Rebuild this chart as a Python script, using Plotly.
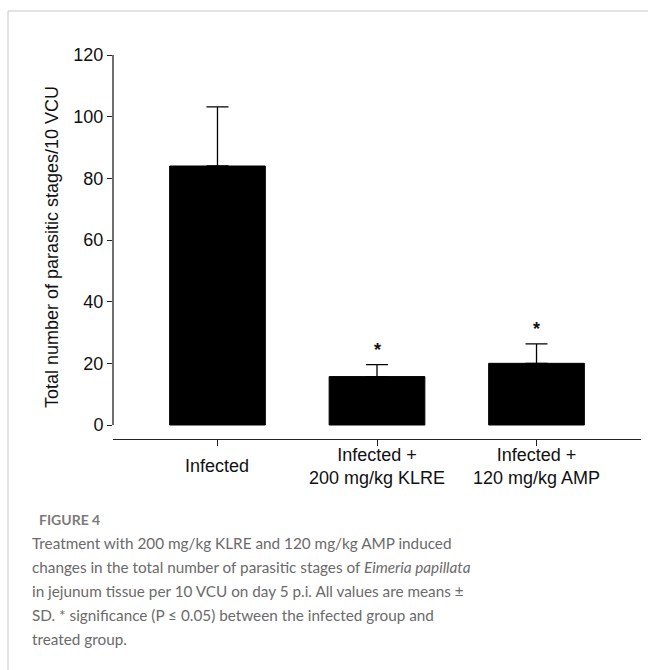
import plotly.graph_objects as go

# Group labels, means and standard deviations
groups = ["Infected", "Infected +<br>200 mg/kg KLRE", "Infected +<br>120 mg/kg AMP"]
means = [84.0, 15.7, 20.0]
sds = [19.2, 3.9, 6.3]
significant = [False, True, True]

y_ticks = [0, 20, 40, 60, 80, 100, 120]

caption_title = "FIGURE 4"
caption_lines = [
    "Treatment with 200 mg/kg KLRE and 120 mg/kg AMP induced",
    "changes in the total number of parasitic stages of <i>Eimeria papillata</i>",
    "in jejunum tissue per 10 VCU on day 5 p.i. All values are means ±",
    "SD. * significance (P ≤ 0.05) between the infected group and",
    "treated group.",
]

W, H = 648, 670
AX_FONT = "Liberation Sans, Arial, sans-serif"
CAP_FONT = "Lato, Open Sans, sans-serif"
AX_SIZE = 18

xpos = list(range(len(groups)))

fig = go.Figure()
fig.add_trace(go.Bar(
    x=xpos, y=means, width=0.6,
    marker=dict(color="black", line=dict(color="black", width=1)),
    error_y=dict(type="data", array=sds, arrayminus=[0] * len(sds), symmetric=False,
                 color="black", thickness=1.3, width=11),
    showlegend=False, hoverinfo="skip",
))


# plot area in pixels: x 113..641, y 55..439
def px_x(p):
    return p / W


def px_y(p):
    return (H - p) / H


fig.update_layout(
    template="none",
    width=W, height=H, autosize=False,
    margin=dict(l=0, r=0, t=0, b=0, pad=0),
    paper_bgcolor="white", plot_bgcolor="white",
    xaxis=dict(domain=[px_x(113), px_x(641)], range=[-0.655, 2.655], automargin=False,
               showline=True, linecolor="#222", linewidth=1.3,
               ticks="outside", ticklen=6, tickwidth=1.3, tickcolor="#222",
               tickvals=xpos, showticklabels=False, showgrid=False, zeroline=False),
    yaxis=dict(domain=[px_y(439), px_y(55)], range=[-4.54, 120], automargin=False,
               showline=False, ticks="outside", ticklen=5, tickwidth=1.3, tickcolor="#222",
               tickvals=y_ticks, ticktext=[str(v) for v in y_ticks],
               tickfont=dict(family=AX_FONT, size=AX_SIZE, color="#111"),
               showgrid=False, zeroline=False,
               title=dict(text="Total number of parasitic stages/10 VCU",
                          font=dict(family=AX_FONT, size=AX_SIZE, color="#111"), standoff=10)),
)

# y-axis spine from 0 to 120 only
fig.add_shape(type="line", xref="paper", yref="y",
              x0=px_x(113), x1=px_x(113), y0=y_ticks[0], y1=y_ticks[-1],
              line=dict(color="#222", width=1.3))

# category labels under the x axis
for xi, g in zip(xpos, groups):
    fig.add_annotation(x=xi, y=px_y(466), xref="x", yref="paper", text=g,
                       showarrow=False, yanchor="middle",
                       font=dict(family=AX_FONT, size=AX_SIZE, color="#111"))

# significance markers
for xi, m, s, sig in zip(xpos, means, sds, significant):
    if sig:
        fig.add_annotation(x=xi, y=m + s, xref="x", yref="y", text="<b>*</b>",
                           showarrow=False, yanchor="bottom", yshift=3,
                           font=dict(family=AX_FONT, size=AX_SIZE, color="#111"))

# caption block
fig.add_annotation(x=px_x(37), y=px_y(519), xref="paper", yref="paper",
                   text="<b>" + caption_title + "</b>", showarrow=False,
                   xanchor="left", yanchor="middle",
                   font=dict(family=CAP_FONT, size=14, color="#7a7a7a"))
for i, line in enumerate(caption_lines):
    fig.add_annotation(x=px_x(30), y=px_y(543 + 24 * i), xref="paper", yref="paper",
                       text=line, showarrow=False, xanchor="left", yanchor="middle",
                       font=dict(family=CAP_FONT, size=15.3, color="#6a6a6a"))

# frame around the figure panel
fig.add_shape(type="rect", xref="paper", yref="paper",
              x0=px_x(8), x1=1.02, y0=-0.02, y1=px_y(11),
              line=dict(color="#c8c8c8", width=1))

fig.write_html("out.html")
